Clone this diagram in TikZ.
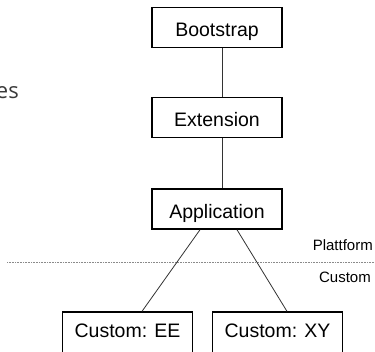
\documentclass[tikz,border=0pt]{standalone}
\usepackage{fontspec}
\setmainfont{Liberation Sans}
\newfontfamily\slidefont{Open Sans}
\usetikzlibrary{positioning,calc}
\definecolor{lyGrey}{HTML}{3A3A3A}
\definecolor{lySep}{HTML}{8A8A8A}

\begin{document}
\begin{tikzpicture}[
  x=1pt,y=-1pt,
  font=\fontsize{19.5}{22}\selectfont,
  layer/.style={draw=black,line width=1.3pt,fill=white,minimum width=130pt,
                minimum height=40pt,inner sep=0pt,text height=18pt,text depth=0pt},
  custom/.style={layer,minimum height=50pt,text height=14pt,text depth=14pt},
  link/.style={draw=black!80,line width=0.8pt},
  side/.style={font=\fontsize{15}{17}\selectfont,anchor=east,inner sep=0pt}]

\useasboundingbox (0,0) rectangle (375,351);

\node[anchor=base east,inner sep=0pt,text=lyGrey,
      font=\slidefont\fontsize{22}{24}\selectfont] (cut) at (19,98) {es};

\node[layer] (boot) at (217,27.5) {Bootstrap};
\node[layer,below=49pt of boot] (ext) {Extension};
\node[layer,below=50pt of ext] (app) {Application};
\node[custom] (ee) at (127.5,337) {Custom: EE};
\node[custom] (xy) at (277.5,337) {Custom: XY};

% separation line platform / custom
\coordinate (sepL) at (7,262);
\coordinate (sepR) at (375,262);
\draw[lySep,line width=0.5pt,dash pattern=on 0.8pt off 0.8pt] (sepL) -- (sepR);
\node[side] (plat) at (373,245) {Plattform};
\node[side] (cust) at (371,277) {Custom};

\draw[link] ([xshift=5pt]boot.south) -- ([xshift=5pt]ext.north);
\draw[link] ([xshift=5pt]ext.south) -- ([xshift=5pt]app.north);
\draw[link] ([xshift=-17pt]app.south) -- ([xshift=14.5pt]ee.north);
\draw[link] ([xshift=20pt]app.south) -- ([xshift=9.5pt]xy.north);
\end{tikzpicture}
\end{document}
